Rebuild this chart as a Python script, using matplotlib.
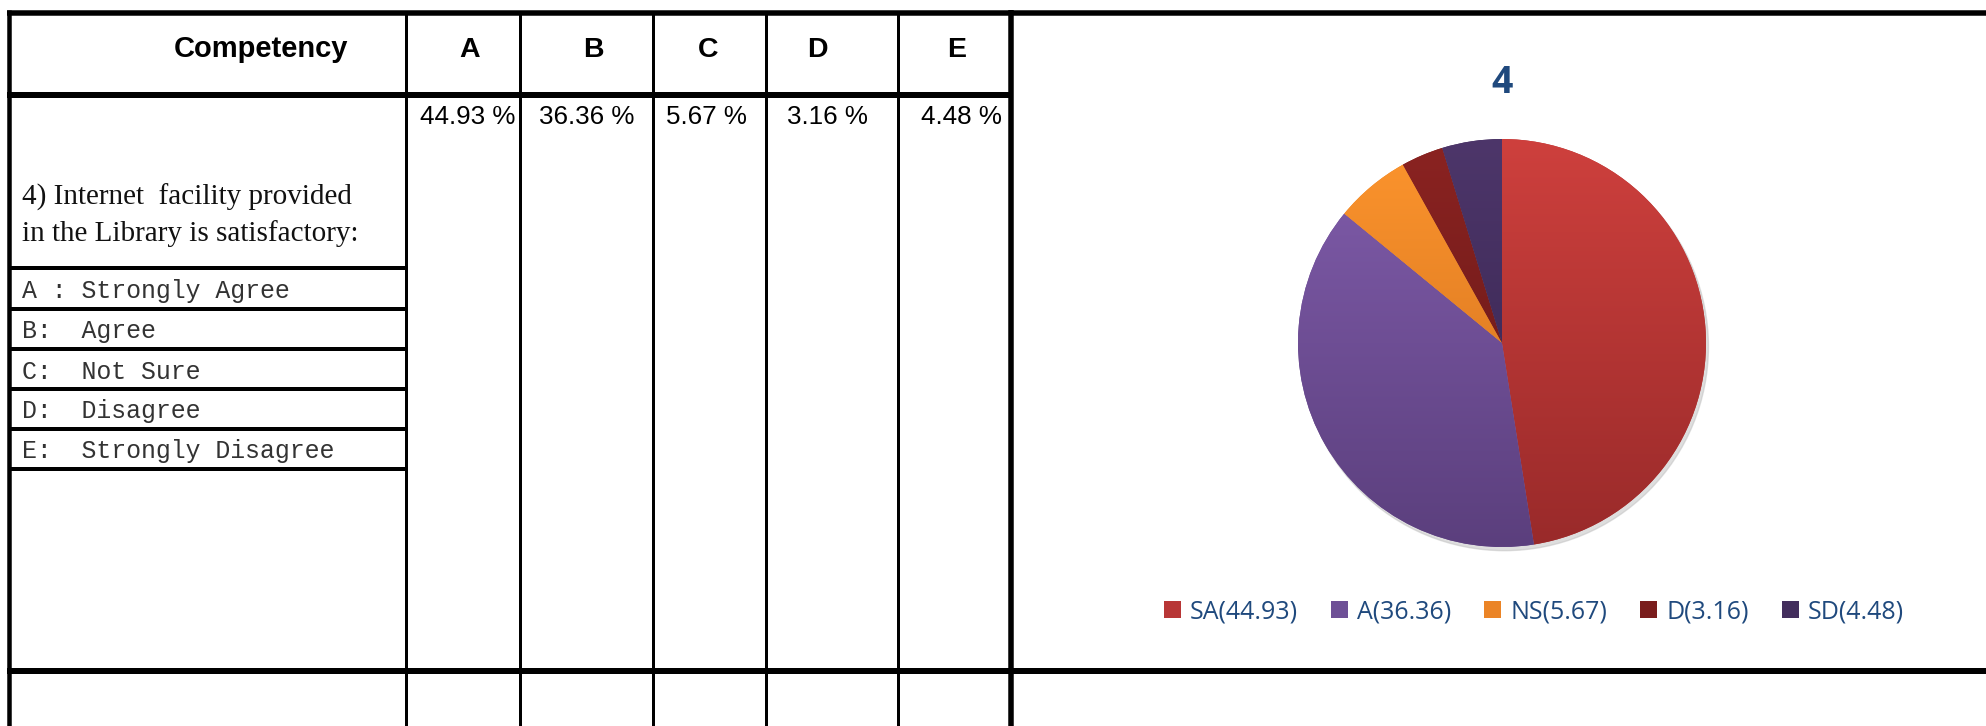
import numpy as np
import matplotlib
matplotlib.use("Agg")
import matplotlib.pyplot as plt
import matplotlib.colors as mcolors
from matplotlib.patches import Patch, Circle

# Données du tableau
options = ['A', 'B', 'C', 'D', 'E']
percentages = [44.93, 36.36, 5.67, 3.16, 4.48]
question = ["4) Internet  facility provided", "in the Library is satisfactory:"]
key_lines = ["A : Strongly Agree", "B:  Agree", "C:  Not Sure", "D:  Disagree", "E:  Strongly Disagree"]

# Données du camembert
pie_title = "4"
abbrev = ['SA', 'A', 'NS', 'D', 'SD']
top_colors = ['#CE403D', '#815DAC', '#FD952D', '#8B2321', '#4D366A']
bottom_colors = ['#992A2A', '#5B3F7D', '#CC6C1D', '#611616', '#35224C']
mid_colors = ['#B83636', '#6E5096', '#EB8426', '#7A1D1C', '#432E5D']

W, H = 1986, 726
DPI = 100


def lw(px):
    return px * 72 / DPI


fig = plt.figure(figsize=(W / DPI, H / DPI), dpi=DPI)
fig.patch.set_facecolor('white')
ax = fig.add_axes([0, 0, 1, 1])
ax.set_xlim(0, W)
ax.set_ylim(H, 0)
ax.axis('off')

# Lignes du tableau
ax.plot([7, W], [12.5, 12.5], color='black', lw=lw(5.5), solid_capstyle='butt')
ax.plot([9, 9], [10, H], color='black', lw=lw(4.5), solid_capstyle='butt')
ax.plot([7, 1013], [94.5, 94.5], color='black', lw=lw(6), solid_capstyle='butt')
ax.plot([7, W], [670.5, 670.5], color='black', lw=lw(6), solid_capstyle='butt')
for x in [405.5, 519.5, 653, 766, 898]:
    ax.plot([x, x], [12, H], color='black', lw=lw(3), solid_capstyle='butt')
ax.plot([1010.5, 1010.5], [10, H], color='black', lw=lw(5.5), solid_capstyle='butt')
for y in [267.5, 309, 348.5, 389, 428.5, 468.5]:
    ax.plot([9, 405], [y, y], color='black', lw=lw(4), solid_capstyle='butt')

# En-têtes
ax.text(261, 57, "Competency", family='Liberation Sans', weight='bold', fontsize=21,
        ha='center', va='baseline')
header_x = [470, 593, 708, 817, 957]
for x, lab in zip(header_x, options):
    ax.text(x, 57, lab, family='Liberation Sans', weight='bold', fontsize=20.5,
            ha='center', va='baseline')

pct_x = [468, 587, 706, 827, 961]
for x, v in zip(pct_x, percentages):
    ax.text(x, 124, f"{v:.2f} %", family='Liberation Sans', fontsize=18.7,
            ha='center', va='baseline')

for y, line in zip([205, 241], question):
    ax.text(22, y, line, family='Liberation Serif', fontsize=21, ha='left', va='baseline',
            color='#111111')

for y, line in zip([298, 338, 379, 418, 458], key_lines):
    ax.text(22, y, line, family='Liberation Mono', fontsize=17.9, ha='left', va='baseline',
            color='#333333')

# Camembert
cx, cy, r = 1502, 343, 204
pax = fig.add_axes([(cx - r) / W, (H - cy - r) / H, 2 * r / W, 2 * r / H])
pax.add_patch(Circle((0.012, -0.018), 1.0, color='0.75', alpha=0.5, zorder=0, clip_on=False))
wedges, _ = pax.pie(percentages, startangle=90, counterclock=False, radius=1,
                    colors=mid_colors, wedgeprops=dict(linewidth=0))
t = np.linspace(0, 1, 256)[:, None, None]
for w, c_top, c_bot in zip(wedges, top_colors, bottom_colors):
    c0 = np.array(mcolors.to_rgb(c_top))[None, None, :]
    c1 = np.array(mcolors.to_rgb(c_bot))[None, None, :]
    img = c0 * (1 - t) + c1 * t
    im = pax.imshow(img, extent=(-1, 1, -1, 1), origin='upper', aspect='auto',
                    interpolation='bilinear', zorder=3)
    im.set_clip_path(w)
pax.set_xlim(-1, 1)
pax.set_ylim(-1, 1)
pax.axis('off')

ax.text(1502, 83, pie_title, family='Open Sans', weight='bold', fontsize=27,
        color='#1F497D', ha='center', va='center')

handles = [Patch(facecolor=c, edgecolor='none') for c in mid_colors]
labels = [f"{a}({v:.2f})" for a, v in zip(abbrev, percentages)]
ax.legend(handles, labels, loc='center', bbox_to_anchor=(1534, 612), bbox_transform=ax.transData,
          ncol=5, frameon=False, prop={'family': 'Open Sans', 'size': 18},
          handlelength=0.68, handleheight=0.68, handletextpad=0.36, columnspacing=1.32,
          borderpad=0, labelcolor='#1F497D')

fig.savefig('out.png', dpi=DPI)
